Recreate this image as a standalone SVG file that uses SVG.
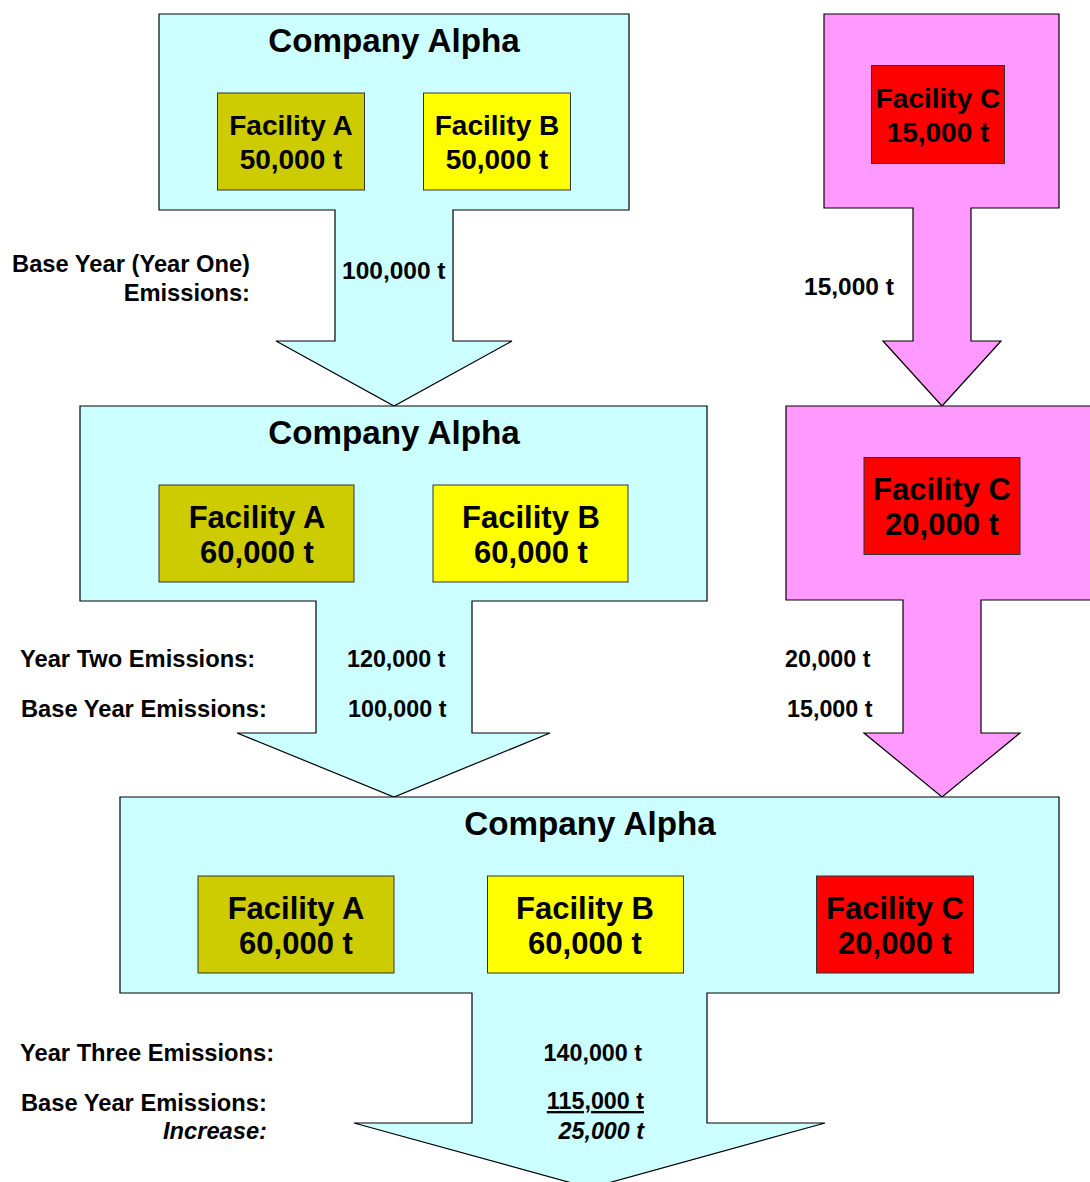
<svg xmlns="http://www.w3.org/2000/svg" width="1090" height="1182" viewBox="0 0 1090 1182">
<style>
text{font-family:"Liberation Sans",Arial,Helvetica,sans-serif;font-weight:bold;fill:#000}
.co{fill:#CCFFFF;stroke:#000;stroke-width:1.2}
.pk{fill:#FF99FF;stroke:#000;stroke-width:1.2}
.fa{fill:#CCCC00;stroke:#333;stroke-width:1}
.fb{fill:#FFFF00;stroke:#333;stroke-width:1}
.fc{fill:#FF0000;stroke:#333;stroke-width:1}
.ttl{font-size:33.2px;text-anchor:middle}
.f27{font-size:28px;text-anchor:middle}
.f30{font-size:31px;text-anchor:middle}
.lb{font-size:23.7px}
.nb{font-size:23.3px}
.nt{font-size:24.5px}
.r{text-anchor:end}
.it{font-style:italic}
</style>
<rect width="1090" height="1182" fill="#fff"/>
<g id="company-alpha-year1">
<path class="co" d="M159,14 H629 V210 H453 V341 H512 L394,406 L276,341 H335 V210 H159 Z"/>
<text class="ttl" x="394" y="52">Company Alpha</text>
<g id="facility-a-y1"><rect class="fa" x="217.5" y="93" width="147" height="97"/>
<text class="f27" x="291" y="135">Facility A</text><text class="f27" x="291" y="169">50,000 t</text></g>
<g id="facility-b-y1"><rect class="fb" x="423.5" y="93" width="147" height="97"/>
<text class="f27" x="497" y="135">Facility B</text><text class="f27" x="497" y="169">50,000 t</text></g>
</g>
<g id="facility-c-year1">
<path class="pk" d="M824,14 H1059 V208 H971 V341 H1001 L942,406 L883,341 H913 V208 H824 Z"/>
<g id="facility-c-y1"><rect class="fc" x="871.5" y="65.5" width="133" height="98"/>
<text class="f27" x="938" y="108">Facility C</text><text class="f27" x="938" y="142">15,000 t</text></g>
</g>
<g id="company-alpha-year2">
<path class="co" d="M80,406 H707 V601 H472 V733 H550 L394,797 L237,733 H316 V601 H80 Z"/>
<text class="ttl" x="394" y="444">Company Alpha</text>
<g id="facility-a-y2"><rect class="fa" x="159" y="485" width="195" height="97"/>
<text class="f30" x="257" y="528">Facility A</text><text class="f30" x="257" y="563">60,000 t</text></g>
<g id="facility-b-y2"><rect class="fb" x="433" y="485" width="195" height="97"/>
<text class="f30" x="531" y="528">Facility B</text><text class="f30" x="531" y="563">60,000 t</text></g>
</g>
<g id="facility-c-year2">
<path class="pk" d="M786,406 H1094 V600 H981 V733 H1020 L942,797 L864,733 H903 V600 H786 Z"/>
<g id="facility-c-y2"><rect class="fc" x="864" y="457.5" width="156" height="97"/>
<text class="f30" x="942" y="500">Facility C</text><text class="f30" x="942" y="535">20,000 t</text></g>
</g>
<g id="company-alpha-year3">
<path class="co" d="M120,797 H1059 V993 H707 V1123 H825 L590,1188 L354,1123 H472 V993 H120 Z"/>
<text class="ttl" x="590" y="835">Company Alpha</text>
<g id="facility-a-y3"><rect class="fa" x="198" y="876" width="196" height="97"/>
<text class="f30" x="296" y="919">Facility A</text><text class="f30" x="296" y="954">60,000 t</text></g>
<g id="facility-b-y3"><rect class="fb" x="487.5" y="876" width="196" height="97"/>
<text class="f30" x="585" y="919">Facility B</text><text class="f30" x="585" y="954">60,000 t</text></g>
<g id="facility-c-y3"><rect class="fc" x="816.5" y="876" width="157" height="97"/>
<text class="f30" x="895" y="919">Facility C</text><text class="f30" x="895" y="954">20,000 t</text></g>
</g>
<g id="connectors">
<text class="lb r" x="250" y="272">Base Year (Year One)</text>
<text class="lb r" x="250" y="301">Emissions:</text>
<text class="nt" x="342" y="279">100,000 t</text>
<text class="nt" x="804" y="295">15,000 t</text>
<text class="lb" x="20" y="667">Year Two Emissions:</text>
<text class="lb" x="21" y="717">Base Year Emissions:</text>
<text class="nb" x="347" y="667">120,000 t</text>
<text class="nb" x="348" y="717">100,000 t</text>
<text class="nb" x="785" y="667">20,000 t</text>
<text class="nb" x="787" y="717">15,000 t</text>
<text class="lb" x="20" y="1061">Year Three Emissions:</text>
<text class="lb" x="21" y="1111">Base Year Emissions:</text>
<text class="lb r it" x="267" y="1139">Increase:</text>
<text class="nb r" x="642" y="1061">140,000 t</text>
<text class="nb r" x="644" y="1109" text-decoration="underline">115,000 t</text>
<text class="nb r it" x="644" y="1139">25,000 t</text>
</g>
</svg>
